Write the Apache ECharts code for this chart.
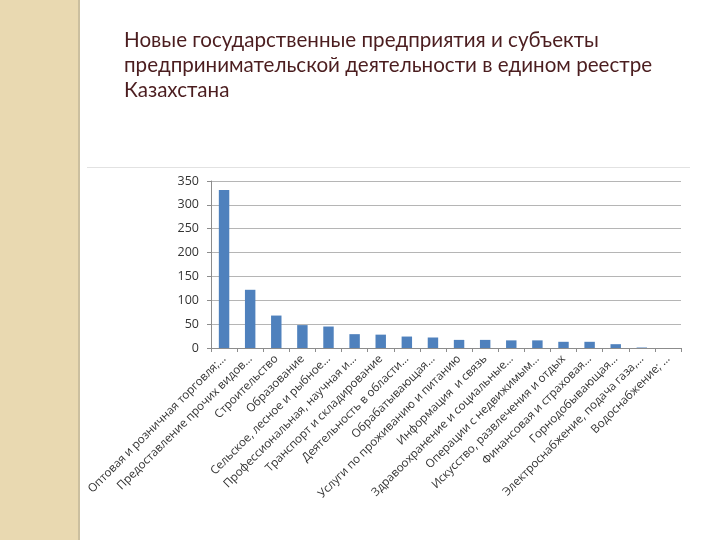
<!DOCTYPE html>
<html><head><meta charset="utf-8">
<script src="https://cdn.jsdelivr.net/npm/echarts@6/dist/echarts.min.js"></script>
<style>html,body{margin:0;padding:0;background:#fff}#c{width:720px;height:540px}</style>
</head><body><div id="c"></div>
<script>
const titleText = "Новые государственные предприятия и субъекты\nпредпринимательской деятельности в едином реестре\nКазахстана";
const categories = [
  "Оптовая и розничная торговля;…",
  "Предоставление прочих видов…",
  "Строительство",
  "Образование",
  "Сельское, лесное и рыбное…",
  "Профессиональная, научная и…",
  "Транспорт и складирование",
  "Деятельность в области…",
  "Обрабатывающая…",
  "Услуги по проживанию и питанию",
  "Информация  и связь",
  "Здравоохранение и социальные…",
  "Операции с недвижимым…",
  "Искусство, развлечения и отдых",
  "Финансовая и страховая…",
  "Горнодобывающая…",
  "Электроснабжение, подача газа,…",
  "Водоснабжение; …"
];
const values = [331, 122, 68, 48, 45, 29, 28, 24, 22, 17, 17, 16, 16, 13, 13, 8, 1, 0];
const yTicks = {min: 0, max: 350, interval: 50};

const chart = echarts.init(document.getElementById('c'));
chart.setOption({
  animation: false,
  backgroundColor: '#ffffff',
  graphic: [
    {type: 'rect', shape: {x: 0, y: 0, width: 78, height: 540}, style: {fill: '#e9d9b1'}, silent: true, z: -10},
    {type: 'rect', shape: {x: 78, y: 0, width: 2, height: 540}, style: {fill: '#cbbf9f'}, silent: true, z: -10},
    {type: 'rect', shape: {x: 87, y: 167, width: 603, height: 1}, style: {fill: '#e2e2e2'}, silent: true, z: -10}
  ],
  title: {
    text: titleText,
    left: 119, top: 23,
    textStyle: {fontFamily: 'Lato', fontSize: 20.6, fontWeight: 'normal', color: '#4b1d1f', lineHeight: 25}
  },
  grid: {left: 211, right: 39, top: 181, bottom: 192},
  xAxis: {
    type: 'category',
    data: categories,
    axisLine: {lineStyle: {color: '#8c8c8c'}},
    axisTick: {show: true, length: 4, lineStyle: {color: '#8c8c8c'}},
    axisLabel: {rotate: 45, interval: 0, fontFamily: 'Open Sans', fontSize: 11.6, color: '#333', margin: 9}
  },
  yAxis: {
    type: 'value',
    min: yTicks.min, max: yTicks.max, interval: yTicks.interval,
    axisLine: {show: true, lineStyle: {color: '#8c8c8c'}},
    axisTick: {show: true, length: 4, lineStyle: {color: '#8c8c8c'}},
    splitLine: {lineStyle: {color: '#b5b5b5'}},
    axisLabel: {fontFamily: 'Open Sans', fontSize: 12.5, color: '#333', margin: 12}
  },
  series: [{
    type: 'bar',
    data: values,
    barWidth: '40%',
    itemStyle: {color: '#4f81bd'}
  }]
});
</script></body></html>
